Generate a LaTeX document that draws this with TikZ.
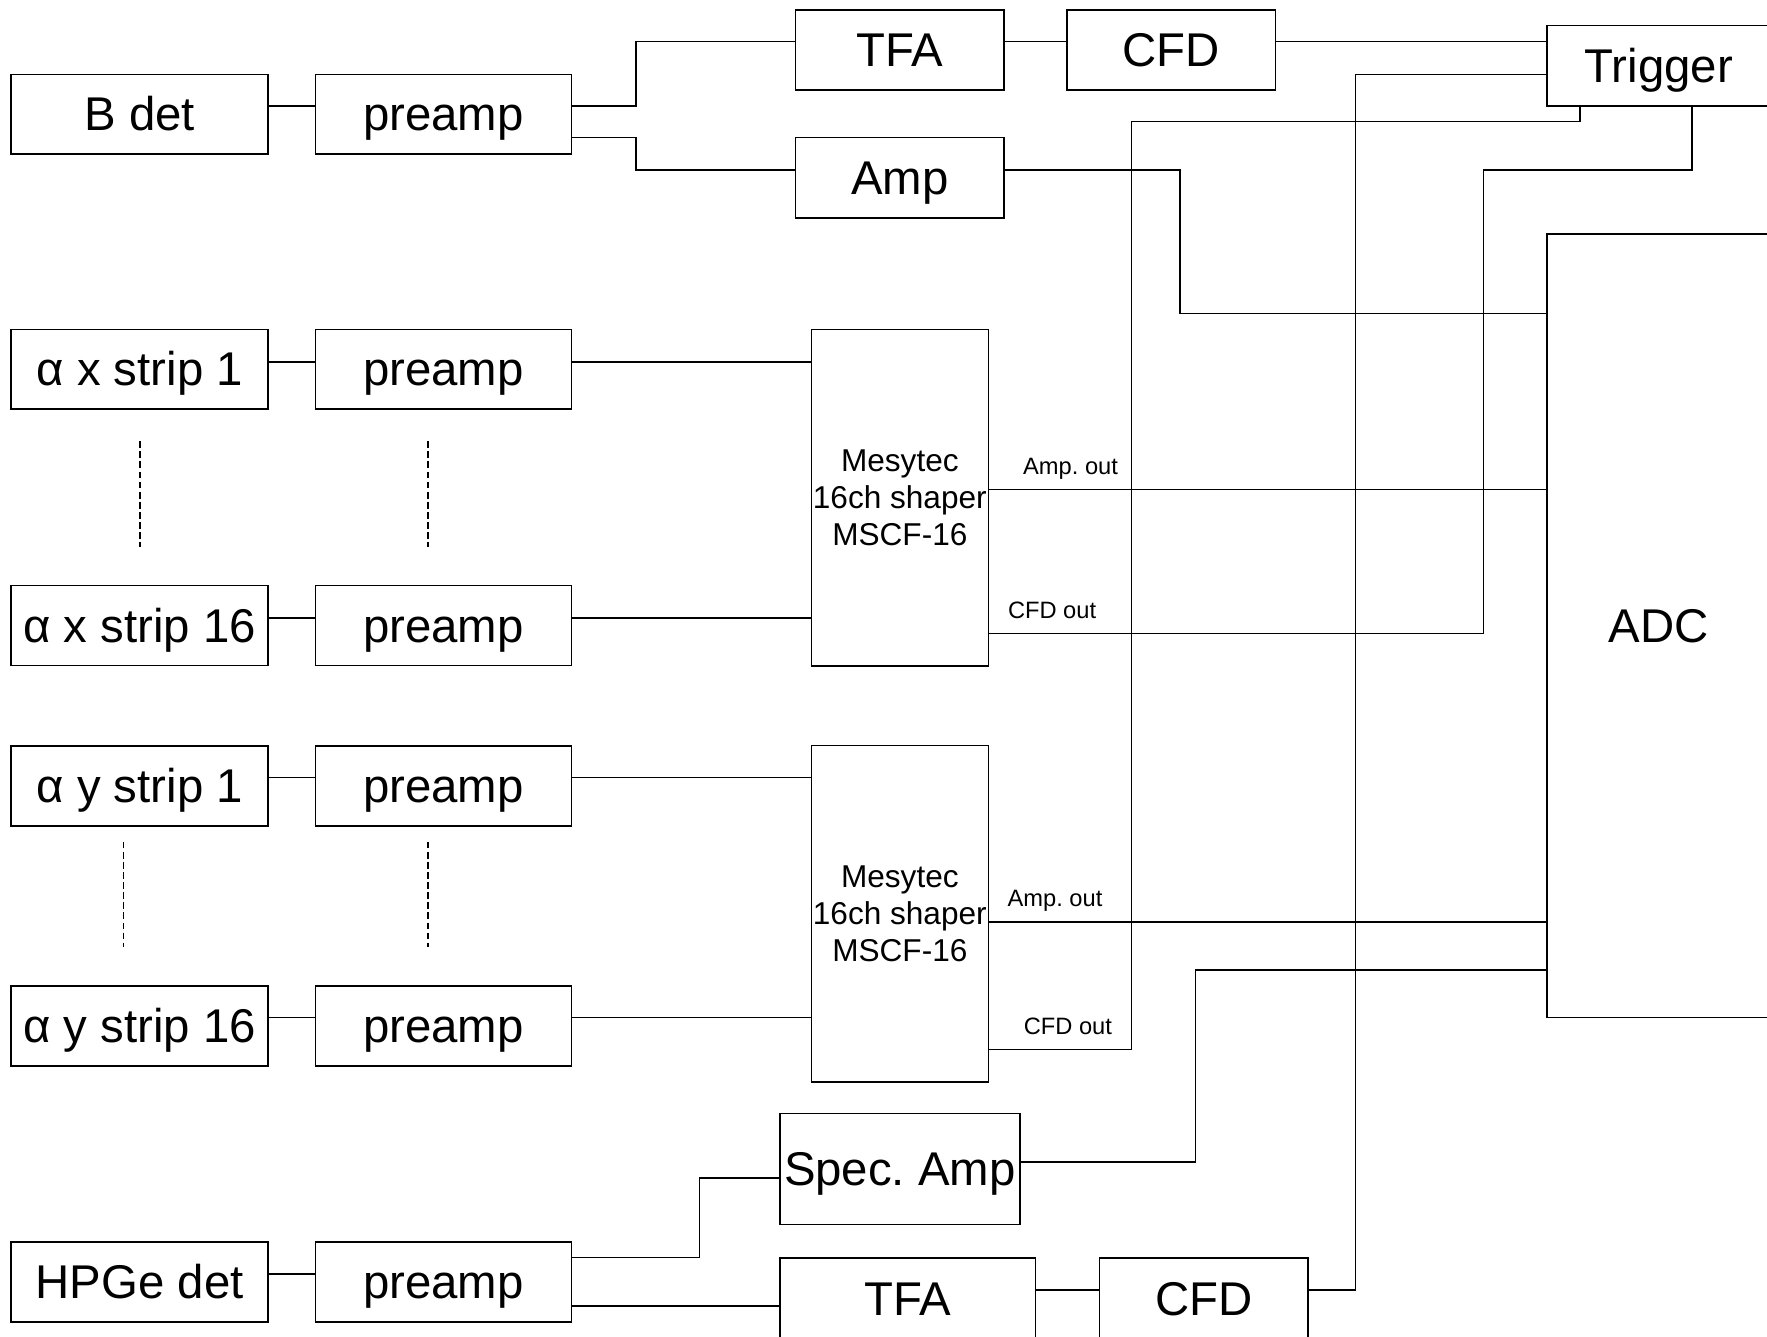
\documentclass[tikz,border=0pt]{standalone}
\usepackage{fontspec}
\setmainfont{Liberation Sans}
\usetikzlibrary{calc}
\frenchspacing
\begin{document}
\begin{tikzpicture}[x=0.01cm,y=-0.01cm,
  blk/.style={draw, line width=0.4pt, inner sep=0pt, font=\fontsize{11.95}{14.3}\selectfont, text height=10.81pt, text depth=2.53pt},
  shaper/.style={draw, line width=0.4pt, inner sep=0pt, align=center, font=\fontsize{7.97}{9.39}\selectfont},
  lbl/.style={inner sep=0pt, font=\fontsize{5.975}{7}\selectfont, text height=5.41pt, text depth=1.27pt},
  sz/.style 2 args={minimum width=#1*0.01cm, minimum height=#2*0.01cm},
  wire/.style={line width=0.4pt},
  dots/.style={line width=0.4pt, dash pattern=on 1.7pt off 0.85pt}]
\useasboundingbox (0,0) rectangle (1568,1186);
\clip (0,0) rectangle (1568,1186);

% level coordinates
\foreach \n/\v in {37/37,66/66,94/94,108/108,122/122,151/151,278/278.3,321/321,434/434.5,548/548.4,562/562,690/690,818/818.2,860/860.6,903/903,931/931.5,1031/1030.9,1045/1045.3,1116/1116,1130/1130.3,1145/1144.7,1159/1158.8}
  {\coordinate (h\n) at (0,\v);}
\coordinate (v1402) at (1402,0);
\coordinate (v1501) at (1501.4,0);

% B detector row
\node[blk, sz={228}{70.5}] (bdet) at (124,101.2) {B det};
\node[blk, sz={227}{70.5}] (pre0) at (393.5,101.2) {preamp};
\node[blk, sz={185}{71}] (tfa1) at (798.5,44.3) {TFA};
\node[blk, sz={185}{71}] (cfd1) at (1039.5,44.3) {CFD};
\node[blk, sz={185}{71.5}] (amp) at (798.5,157.7) {Amp};
\node[blk, sz={198}{71.2}] (trig) at (1472,58.4) {Trigger};
\node[blk, sz={198}{695.4}] (adc) at (1472,555.4) {ADC};

% alpha x strips
\node[blk, sz={228}{70.5}] (ax1) at (124,327.8) {α x strip 1};
\node[blk, sz={227}{70.5}] (pax1) at (393.5,327.8) {preamp};
\node[blk, sz={228}{71}] (ax16) at (124,555.2) {α x strip 16};
\node[blk, sz={227}{71}] (pax16) at (393.5,555.2) {preamp};
\node[shaper, sz={157}{298.5}] (msx) at (798.5,441.75) {Mesytec\\16ch shaper\\MSCF-16};

% alpha y strips
\node[blk, sz={228}{71}] (ay1) at (124,697.3) {α y strip 1};
\node[blk, sz={227}{71}] (pay1) at (393.5,697.3) {preamp};
\node[blk, sz={228}{71}] (ay16) at (124,910.5) {α y strip 16};
\node[blk, sz={227}{71}] (pay16) at (393.5,910.5) {preamp};
\node[shaper, sz={157}{298.3}] (msy) at (798.5,810.85) {Mesytec\\16ch shaper\\MSCF-16};

% HPGe row
\node[blk, sz={213}{98.5}] (spec) at (798.5,1037.3) {Spec. Amp};
\node[blk, sz={228}{71}] (hpge) at (124,1137.4) {HPGe det};
\node[blk, sz={227}{71}] (phpge) at (393.5,1137.4) {preamp};
\node[blk, sz={227}{73}] (tfa2) at (805.5,1152.8) {TFA};
\node[blk, sz={185}{73}] (cfd2) at (1068.3,1152.8) {CFD};

% output labels
\node[lbl] (lax) at (950,414.2) {Amp. out};
\node[lbl] (lcx) at (933.6,541.4) {CFD out};
\node[lbl] (lay) at (936.2,797.3) {Amp. out};
\node[lbl] (lcy) at (947.6,910.6) {CFD out};

% B row connectors
\draw[wire] (bdet.east |- h94) -- (pre0.west |- h94);
\draw[wire] (pre0.east |- h94) -| (564.6,37) -- (tfa1.west |- h37);
\draw[wire] (pre0.east |- h122) -| (564.6,151) -- (amp.west |- h151);
\draw[wire] (tfa1.east |- h37) -- (cfd1.west |- h37);
\draw[wire] (cfd1.east |- h37) -- (trig.west |- h37);
\draw[wire] (amp.east |- h151) -| (1047,278.3) -- (adc.west |- h278);

% trigger outputs
\draw[wire] (trig.west |- h66) -| (1203,1144.7) -- (cfd2.east |- h1145);
\draw[wire] (trig.south -| v1402) |- (1004.2,108) |- (msy.east |- h931);
\draw[wire] (trig.south -| v1501) |- (1316.6,151) |- (msx.east |- h562);

% alpha x connectors
\draw[wire] (ax1.east |- h321) -- (pax1.west |- h321);
\draw[wire] (pax1.east |- h321) -- (msx.west |- h321);
\draw[wire] (ax16.east |- h548) -- (pax16.west |- h548);
\draw[wire] (pax16.east |- h548) -- (msx.west |- h548);
\draw[wire] (msx.east |- h434) -- (adc.west |- h434);

% alpha y connectors
\draw[wire] (ay1.east |- h690) -- (pay1.west |- h690);
\draw[wire] (pay1.east |- h690) -- (msy.west |- h690);
\draw[wire] (ay16.east |- h903) -- (pay16.west |- h903);
\draw[wire] (pay16.east |- h903) -- (msy.west |- h903);
\draw[wire] (msy.east |- h818) -- (adc.west |- h818);

% HPGe connectors
\draw[wire] (spec.east |- h1031) -| (1061,860.6) -- (adc.west |- h860);
\draw[wire] (hpge.east |- h1130) -- (phpge.west |- h1130);
\draw[wire] (phpge.east |- h1116) -| (620.7,1045.3) -- (spec.west |- h1045);
\draw[wire] (phpge.east |- h1159) -- (tfa2.west |- h1159);
\draw[wire] (tfa2.east |- h1145) -- (cfd2.west |- h1145);

% dashed continuation marks
\draw[dots] (124,391.6) -- (124,485);
\draw[dots] (379.6,391.6) -- (379.6,485);
\draw[dots] (109.7,746.9) -- (109.7,840);
\draw[dots] (379.6,746.9) -- (379.6,840);
\end{tikzpicture}
\end{document}
